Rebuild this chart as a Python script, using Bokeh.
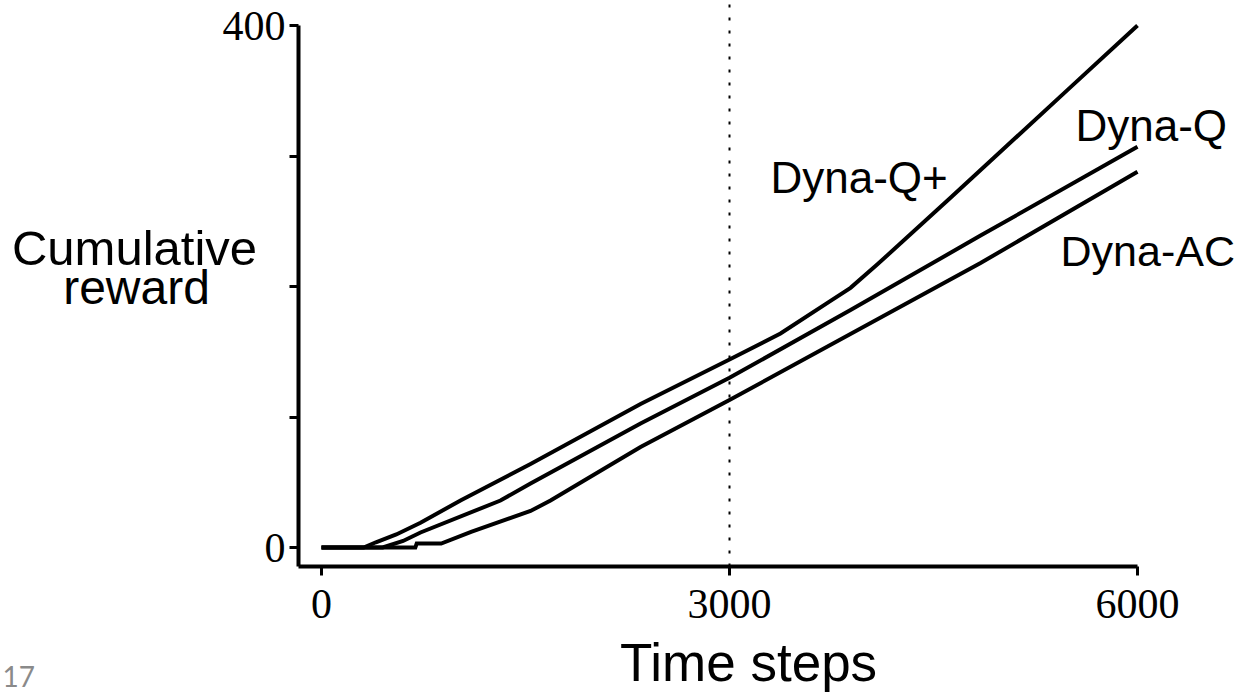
from bokeh.plotting import figure
from bokeh.models import Range1d, FixedTicker, Label
from bokeh.embed import file_html
from bokeh.resources import INLINE

# ---- data ----
dynaqp_t = [0, 310, 400, 550, 728, 1022, 1537, 2346, 3000, 3375, 3743, 3890, 4088, 4625, 5000, 5500, 6000]
dynaqp_r = [0, 0, 4, 10, 19, 36, 64, 110, 144, 164, 189, 199, 217, 268, 304, 352, 400]

dynaq_t = [0, 450, 600, 728, 1316, 1537, 2346, 3000, 3890, 4846, 6000]
dynaq_r = [0, 0, 5, 11.5, 36, 49, 95, 130, 182, 239, 307]

dynaac_t = [0, 690, 700, 880, 1100, 1537, 1684, 2346, 3000, 4846, 6000]
dynaac_r = [0, 0, 3, 3, 12, 28, 36, 77, 113, 218, 288]

x_ticks = [0, 3000, 6000]
y_ticks = [0, 100, 200, 300, 400]
y_tick_labels = {0: "0", 100: "", 200: "", 300: "", 400: "400"}
change_step = 3000

W, H = 1243, 694
PX_PER_STEP = 0.136
PX_PER_REWARD = 1.305
x_axis_at = -14.56     # where the offset x axis sits (reward units)
y_axis_at = -169       # where the offset y axis sits (time-step units)
x_start, x_end = -321 / PX_PER_STEP, (W - 321) / PX_PER_STEP
y_start, y_end = (547 - H) / PX_PER_REWARD, 547 / PX_PER_REWARD

p = figure(width=W, height=H, output_backend="svg", toolbar_location=None,
           x_range=Range1d(x_start, x_end), y_range=Range1d(y_start, y_end),
           min_border=0, min_border_left=0, min_border_right=0,
           min_border_top=0, min_border_bottom=0)
p.outline_line_color = None
p.grid.visible = False
p.background_fill_color = "white"
p.border_fill_color = "white"

serif = "Liberation Serif"
sans = "Liberation Sans"

xa = p.xaxis[0]
xa.fixed_location = x_axis_at
xa.ticker = FixedTicker(ticks=x_ticks)
xa.bounds = (y_axis_at, 6000)
xa.axis_line_width = 4
xa.major_tick_line_width = 3
xa.major_tick_out = 9
xa.major_tick_in = 0
xa.minor_tick_line_color = None
xa.major_label_text_font = serif
xa.major_label_text_font_size = "42px"
xa.major_label_text_color = "black"
xa.major_label_standoff = 14

ya = p.yaxis[0]
ya.fixed_location = y_axis_at
ya.ticker = FixedTicker(ticks=y_ticks)
ya.bounds = (x_axis_at, 400)
ya.major_label_overrides = y_tick_labels
ya.axis_line_width = 4
ya.major_tick_line_width = 3
ya.major_tick_out = 9
ya.major_tick_in = 0
ya.minor_tick_line_color = None
ya.major_label_text_font = serif
ya.major_label_text_font_size = "42px"
ya.major_label_text_color = "black"
ya.major_label_standoff = 4

# dotted marker of the environment change, from the x axis to the top
p.line([change_step, change_step], [x_axis_at, y_end], line_color="black",
       line_width=2, line_dash="3 10")

for t, r in [(dynaqp_t, dynaqp_r), (dynaq_t, dynaq_r), (dynaac_t, dynaac_r)]:
    p.line(t, r, line_color="black", line_width=4, line_join="miter")

def lab(px, py, text, size, font=sans, align="left", color="black"):
    # px, py: wanted left/centre x and baseline y in page pixels of the reference
    x = (px - 321) / PX_PER_STEP
    y = (547 - py + 0.34 * size) / PX_PER_REWARD
    p.add_layout(Label(x=x, y=y, text=text, text_font=font, text_font_size=f"{size}px",
                       text_align=align, text_baseline="alphabetic", text_color=color))

lab(770, 192, "Dyna-Q+", 44)
lab(1075, 140, "Dyna-Q", 44)
lab(1060, 265, "Dyna-AC", 43)
lab(134, 264, "Cumulative", 49, align="center")
lab(136, 303, "reward", 48, align="center")
lab(748, 680, "Time steps", 53, align="center")
lab(2, 686, "17", 28, font="Lato", color="#8a8a8a")

open("out.html", "w").write(file_html(p, INLINE))
